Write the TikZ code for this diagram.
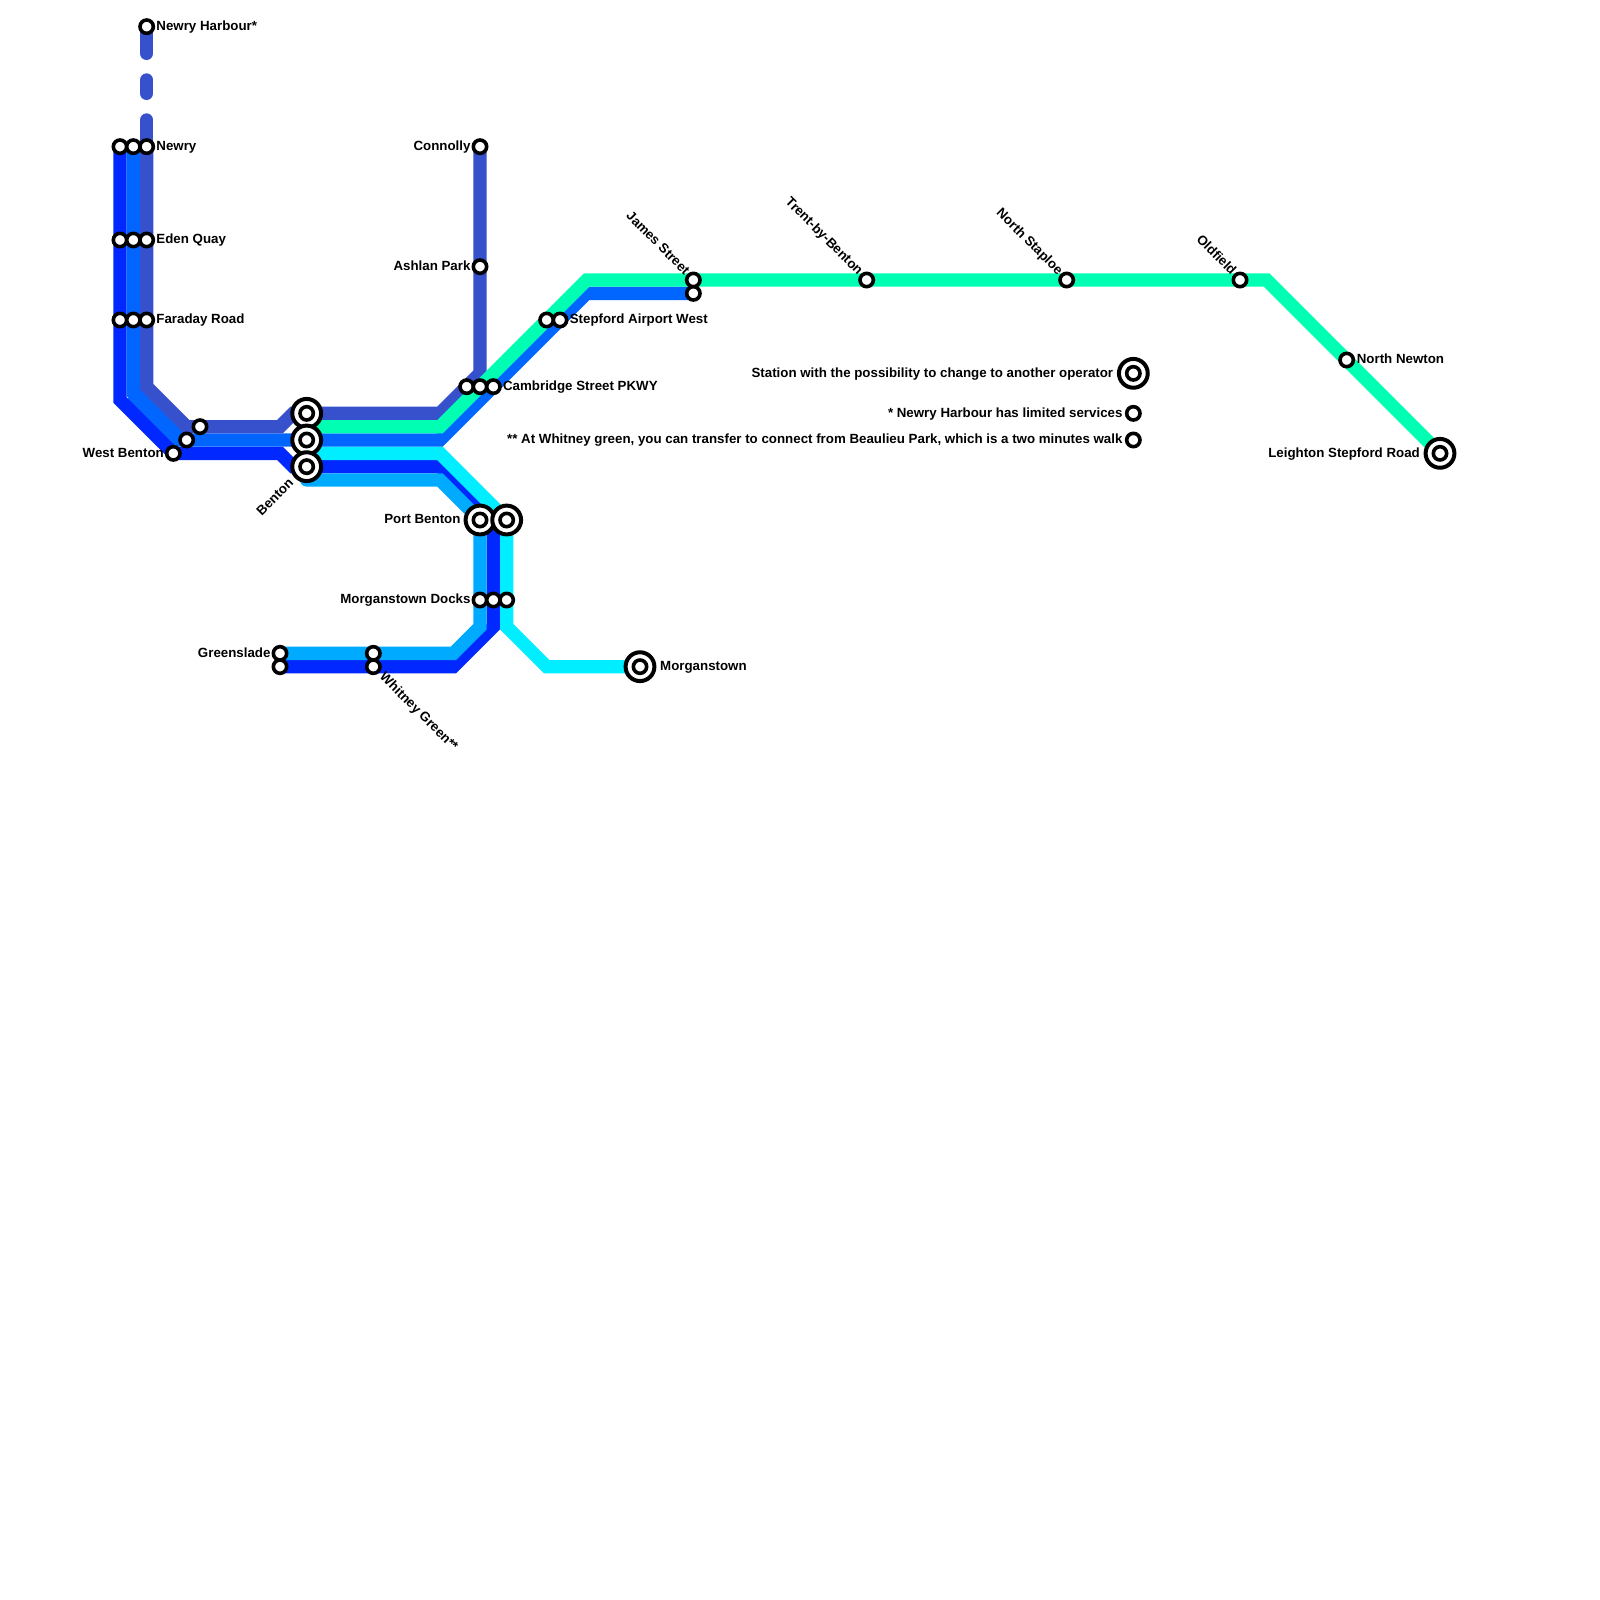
\documentclass[tikz,border=0pt]{standalone}
\usepackage{fontspec}
\setmainfont{Liberation Sans}
\usetikzlibrary{backgrounds}
\definecolor{lineindigo}{HTML}{3750CC}
\definecolor{linedark}{HTML}{0028FF}
\definecolor{linemid}{HTML}{0066FF}
\definecolor{linelight}{HTML}{00AAFF}
\definecolor{linecyan}{HTML}{00EEFF}
\definecolor{linemint}{HTML}{00FFB2}
\tikzset{
  route/.style={line width=0.5cm,line cap=round,miter limit=10},
  stn/.style={circle,draw=black,fill=white,line width=0.135cm,minimum size=0.5cm},
  bigstn/.style={circle,draw=black,fill=white,line width=0.15cm,minimum size=1.08cm},
  lbl/.style={font=\bfseries\fontsize{14.2}{16}\selectfont,text height=10pt,text depth=3pt}
}
\begin{document}
\begin{tikzpicture}[scale=0.5]
  \tikzstyle{every node}+=[inner sep=0pt]
  \useasboundingbox (0,0) rectangle (120,-120);
  % stations, left branch
  \node [stn] (harbour) at (11,-2) {};
  \node [stn] (newrya) at (9,-11) {};
  \node [stn] (newryb) at (10,-11) {};
  \node [stn] (newryc) at (11,-11) {};
  \node [stn] (edena) at (9,-18) {};
  \node [stn] (edenb) at (10,-18) {};
  \node [stn] (edenc) at (11,-18) {};
  \node [stn] (faradaya) at (9,-24) {};
  \node [stn] (faradayb) at (10,-24) {};
  \node [stn] (faradayc) at (11,-24) {};
  \node [stn] (westa) at (13,-34) {};
  \node [stn] (westb) at (14,-33) {};
  \node [stn] (westc) at (15,-32) {};
  % stations, Benton
  \node [bigstn] (bentona) at (23,-31) {};
  \node [bigstn] (bentonb) at (23,-33) {};
  \node [bigstn] (bentonc) at (23,-35) {};
  \node [stn] (bentonai) at (23,-31) {};
  \node [stn] (bentonbi) at (23,-33) {};
  \node [stn] (bentonci) at (23,-35) {};
  \coordinate (bentond) at (23,-34);
  \coordinate (bentone) at (23,-36);
  \coordinate (bentonf) at (23,-32);
  % stations, north
  \node [stn] (connolly) at (36,-11) {};
  \node [stn] (ashlan) at (36,-20) {};
  \node [stn] (cama) at (35,-29) {};
  \node [stn] (camb) at (36,-29) {};
  \node [stn] (camc) at (37,-29) {};
  \node [stn] (airporta) at (41,-24) {};
  \node [stn] (airportb) at (42,-24) {};
  \node [stn] (jamesa) at (52,-21) {};
  \node [stn] (jamesb) at (52,-22) {};
  \node [stn] (trent) at (65,-21) {};
  \node [stn] (staploe) at (80,-21) {};
  \node [stn] (oldfield) at (93,-21) {};
  \node [stn] (newton) at (101,-27) {};
  \node [bigstn] (leighton) at (108,-34) {};
  \node [stn] (leightoni) at (108,-34) {};
  % stations, south
  \node [bigstn] (porta) at (36,-39) {};
  \node [bigstn] (portb) at (38,-39) {};
  \node [stn] (portai) at (36,-39) {};
  \node [stn] (portbi) at (38,-39) {};
  \node [stn] (docksa) at (36,-45) {};
  \node [stn] (docksb) at (37,-45) {};
  \node [stn] (docksc) at (38,-45) {};
  \node [stn] (greena) at (21,-49) {};
  \node [stn] (greenb) at (21,-50) {};
  \node [stn] (whitneya) at (28,-49) {};
  \node [stn] (whitneyb) at (28,-50) {};
  \node [bigstn] (morgan) at (48,-50) {};
  \node [stn] (morgani) at (48,-50) {};
  % legend
  \node [bigstn] (keya) at (85,-28) {};
  \node [stn] (keyai) at (85,-28) {};
  \node [stn] (keyb) at (85,-31) {};
  \node [stn] (keyc) at (85,-33) {};
  % labels
  \node (lharbour) [lbl,anchor=west] at (11.72,-2.05) {Newry Harbour*};
  \node (lnewry) [lbl,anchor=west] at (11.72,-11.05) {Newry};
  \node (leden) [lbl,anchor=west] at (11.72,-18.05) {Eden Quay};
  \node (lfaraday) [lbl,anchor=west] at (11.72,-24.05) {Faraday Road};
  \node (lwest) [lbl,anchor=east] at (12.3,-34.05) {West Benton};
  \node (lbenton) [lbl,anchor=east,rotate=45] at (21.9,-36.1) {Benton};
  \node (lconnolly) [lbl,anchor=east] at (35.3,-11.05) {Connolly};
  \node (lashlan) [lbl,anchor=east] at (35.3,-20.05) {Ashlan Park};
  \node (lcam) [lbl,anchor=west] at (37.72,-29.05) {Cambridge Street PKWY};
  \node (lairport) [lbl,anchor=west] at (42.72,-24.05) {Stepford Airport West};
  \node (ljames) [lbl,anchor=east,rotate=-45] at (51.5,-20.5) {James Street};
  \node (ltrent) [lbl,anchor=east,rotate=-45] at (64.5,-20.5) {Trent-by-Benton};
  \node (lstaploe) [lbl,anchor=east,rotate=-45] at (79.5,-20.5) {North Staploe};
  \node (loldfield) [lbl,anchor=east,rotate=-45] at (92.5,-20.5) {Oldfield};
  \node (lnewton) [lbl,anchor=west] at (101.75,-27.05) {North Newton};
  \node (lleighton) [lbl,anchor=east] at (106.5,-34.05) {Leighton Stepford Road};
  \node (lport) [lbl,anchor=east] at (34.55,-39.05) {Port Benton};
  \node (ldocks) [lbl,anchor=east] at (35.3,-45.05) {Morganstown Docks};
  \node (lgreen) [lbl,anchor=east] at (20.3,-49.05) {Greenslade};
  \node (lwhitney) [lbl,anchor=west,rotate=-45] at (28.6,-50.65) {Whitney Green**};
  \node (lmorgan) [lbl,anchor=west] at (49.5,-50.05) {Morganstown};
  \node (lkeya) [lbl,anchor=east] at (83.5,-28.05) {Station with the possibility to change to another operator};
  \node (lkeyb) [lbl,anchor=east] at (84.2,-31.05) {* Newry Harbour has limited services};
  \node (lkeyc) [lbl,anchor=east] at (84.2,-33.05) {** At Whitney green, you can transfer to connect from Beaulieu Park, which is a two minutes walk};
  % bends
  \coordinate (inda) at (11,-29);
  \coordinate (indb) at (14,-32);
  \coordinate (indc) at (21,-32);
  \coordinate (indd) at (22,-31);
  \coordinate (inde) at (33,-31);
  \coordinate (indf) at (36,-28);
  \coordinate (mida) at (10,-29.5);
  \coordinate (midb) at (13.5,-33);
  \coordinate (midc) at (33,-33);
  \coordinate (midd) at (44,-22);
  \coordinate (darka) at (9,-30);
  \coordinate (darkb) at (21,-34);
  \coordinate (darkc) at (22,-35);
  \coordinate (darkd) at (33,-35);
  \coordinate (darke) at (37,-39);
  \coordinate (darkf) at (37,-47);
  \coordinate (darkg) at (34,-50);
  \coordinate (lighta) at (33,-36);
  \coordinate (lightb) at (36,-47);
  \coordinate (lightc) at (34,-49);
  \coordinate (cyana) at (33,-34);
  \coordinate (cyanb) at (38,-47);
  \coordinate (cyanc) at (41,-50);
  \coordinate (minta) at (33,-32);
  \coordinate (mintb) at (44,-21);
  \coordinate (mintc) at (95,-21);
  % routes
  \begin{scope}[on background layer]
    \draw [linemid,line width=0.6cm] (mida) -- (midb);
    \draw [route,linedark] (newrya.center) -- (darka) -- (westa.center) -- (darkb) -- (darkc) -- (darkd) -- (darke) -- (darkf) -- (darkg) -- (greenb.center);
    \draw [route,linelight] (bentone) -- (lighta) -- (porta.center) -- (lightb) -- (lightc) -- (greena.center);
    \draw [route,linecyan] (bentond) -- (cyana) -- (portb.center) -- (cyanb) -- (cyanc) -- (morgan.center);
    \draw [route,linemid] (newryb.center) -- (mida) -- (midb) -- (midc) -- (midd) -- (jamesb.center);
    \draw [route,lineindigo] (newryc.center) -- (inda) -- (indb) -- (indc) -- (indd) -- (inde) -- (indf) -- (connolly.center);
    \draw [route,lineindigo,dash pattern=on 1cm off 1cm on 0.5cm off 1cm on 1cm] (harbour.center) -- (newryc.center);
    \draw [route,linemint] (bentonf) -- (minta) -- (mintb) -- (mintc) -- (leighton.center);
  \end{scope}
\end{tikzpicture}
\end{document}
